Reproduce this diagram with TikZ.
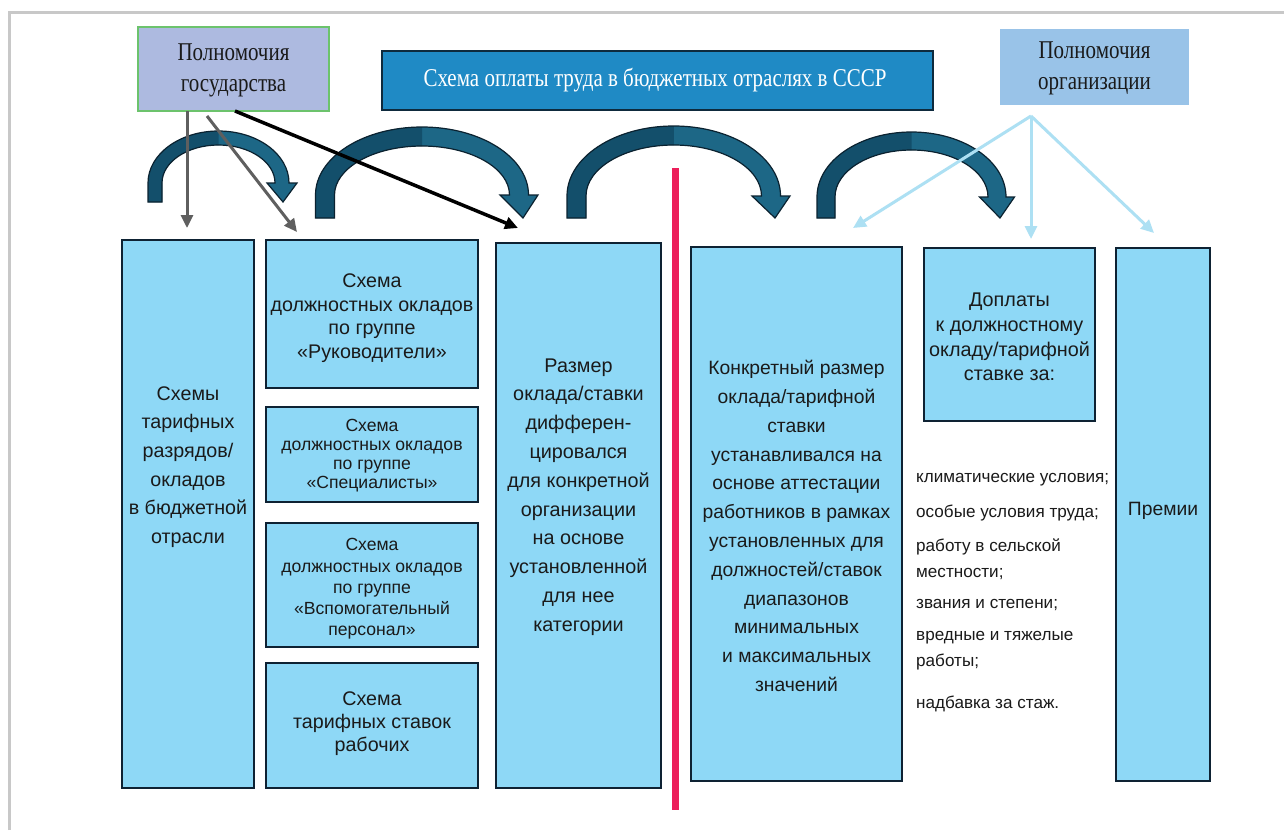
\documentclass[tikz,border=0pt]{standalone}
\usepackage{fontspec}
\usetikzlibrary{arrows.meta}
\newfontfamily\narrowsans{Liberation Sans}
\newfontfamily\narrowserif{Liberation Serif}[FakeStretch=0.82]
\definecolor{boxblue}{HTML}{8ED8F6}
\definecolor{boxedge}{HTML}{0E2233}
\definecolor{gosfill}{HTML}{ADBAE0}
\definecolor{gosedge}{HTML}{6CC36C}
\definecolor{titlefill}{HTML}{1F8AC5}
\definecolor{titleedge}{HTML}{0E2A3D}
\definecolor{orgfill}{HTML}{99C3E8}
\definecolor{greyarr}{HTML}{5F5F5F}
\definecolor{lbarr}{HTML}{ADE0F3}
\definecolor{redline}{HTML}{EC1E5A}
\definecolor{arrlightc}{HTML}{1D6786}
\definecolor{arrdarkc}{HTML}{134F6B}
\definecolor{arredgec}{HTML}{0B2230}
\definecolor{framegrey}{HTML}{C8C8C8}
\definecolor{txt}{HTML}{1A1A1A}
\newcommand\curvedarrow[9]{%
 \pgfmathsetmacro\caOX{#1-#3-#5/2}%
 \pgfmathsetmacro\caIX{#1-#3+#5/2}%
 \pgfmathsetmacro\caORX{#3+#5/2}%
 \pgfmathsetmacro\caORY{#4+#5/2}%
 \pgfmathsetmacro\caIRX{#3-#5/2}%
 \pgfmathsetmacro\caIRY{#4-#5/2}%
 \pgfmathsetmacro\caHL{#1+#3-#7}%
 \pgfmathsetmacro\caHR{#1+#3+#7}%
 \pgfmathsetmacro\caER{#1+#3+#5/2}%
 \pgfmathsetmacro\caEL{#1+#3-#5/2}%
 \def\capath{(\caOX,#6) -- (\caOX,#2) arc[start angle=180,end angle=360,x radius=\caORX,y radius=\caORY] -- (\caHR,#2) -- (#8,#9) -- (\caHL,#2) -- (\caEL,#2) arc[start angle=360,end angle=180,x radius=\caIRX,y radius=\caIRY] -- (\caIX,#6) -- cycle}%
 \fill[arrlightc] \capath;
 \begin{scope}\clip (0,0) rectangle (#1,830); \fill[arrdarkc] \capath; \end{scope}
 \draw[arredgec,line width=1.2pt,line join=miter] \capath;
}
\begin{document}
\begin{tikzpicture}[x=1pt,y=-1pt,
  box/.style={rectangle,fill=boxblue,draw=boxedge,line width=2.5pt,inner sep=0pt},
  btext/.style={align=center,text=txt,inner sep=0pt},
  ltext/.style={align=left,anchor=west,text=txt,inner sep=0pt,font=\narrowsans\fontsize{17.1}{26}\selectfont},
  greyarrow/.style={draw=greyarr,line width=3pt,-{Triangle[length=13pt,width=12pt]}},
  blackarrow/.style={draw=black,line width=3.5pt,-{Triangle[length=13pt,width=12pt]}},
  lbarrow/.style={draw=lbarr,line width=3pt,-{Triangle[length=13pt,width=12pt]}}]
\useasboundingbox (0,0) rectangle (1284,830);
\fill[white] (0,0) rectangle (1284,830);
\draw[framegrey,line width=3pt] (9,830) -- (9,12) -- (1284,12);

% top boxes
\node[rectangle,fill=gosfill,draw=gosedge,line width=1.5pt,minimum width=191pt,minimum height=84pt] (gos) at (233.5,69) {};
\node[btext,font=\narrowserif\fontsize{25.6}{31}\selectfont] (gost) at (233.5,70) {Полномочия\\государства};
\node[rectangle,fill=titlefill,draw=titleedge,line width=2pt,minimum width=551pt,minimum height=59pt] (title) at (657.5,80.5) {};
\node[btext,text=white,font=\narrowserif\fontsize{25.6}{28}\selectfont] (titlet) at (655,80) {Схема оплаты труда в бюджетных отраслях в СССР};
\node[rectangle,fill=orgfill,minimum width=189pt,minimum height=76pt] (org) at (1094.5,67) {};
\node[btext,font=\narrowserif\fontsize{25.6}{31}\selectfont] (orgt) at (1094.5,68) {Полномочия\\организации};

% curved arrows
\curvedarrow{218.5}{183}{63.5}{45}{14}{202}{15}{283}{202}
\curvedarrow{422}{195}{97}{58.5}{19}{218}{19}{523}{218}
\curvedarrow{673.75}{196}{97.25}{60.5}{19}{218}{19}{775}{218}
\curvedarrow{911.5}{197}{85.5}{56}{18}{218}{17.5}{1000}{218}

% red divider
\coordinate (rtop) at (675.5,168);
\coordinate (rbot) at (675.5,810);
\draw[redline,line width=7pt] (rtop) -- (rbot);

% boxes
\node[box,minimum width=132pt,minimum height=548pt] (b1) at (188,514) {};
\node[btext,font=\narrowsans\fontsize{19.7}{28.6}\selectfont] (b1t) at (188,467) {Схемы\\тарифных\\разрядов/\\окладов\\в бюджетной\\отрасли};
\node[box,minimum width=212pt,minimum height=148pt] (b2) at (372,314) {};
\node[btext,font=\narrowsans\fontsize{19.7}{23.5}\selectfont] (b2t) at (372,318) {Схема\\должностных окладов\\по группе\\«Руководители»};
\node[box,minimum width=212pt,minimum height=95pt] (b3) at (372,454.5) {};
\node[btext,font=\narrowsans\fontsize{17.6}{19}\selectfont] (b3t) at (372,456) {Схема\\должностных окладов\\по группе\\«Специалисты»};
\node[box,minimum width=212pt,minimum height=124pt] (b4) at (372,585) {};
\node[btext,font=\narrowsans\fontsize{17.6}{21.3}\selectfont] (b4t) at (372,589) {Схема\\должностных окладов\\по группе\\«Вспомогательный\\персонал»};
\node[box,minimum width=212pt,minimum height=125pt] (b5) at (372,725.5) {};
\node[btext,font=\narrowsans\fontsize{19.7}{23}\selectfont] (b5t) at (372,724) {Схема\\тарифных ставок\\рабочих};
\node[box,minimum width=165pt,minimum height=545pt] (b6) at (578.5,515.5) {};
\node[btext,font=\narrowsans\fontsize{19.8}{28.8}\selectfont] (b6t) at (578.5,497) {Размер\\оклада/ставки\\дифферен-\\цировался\\для конкретной\\организации\\на основе\\установленной\\для нее\\категории};
\node[box,minimum width=211pt,minimum height=534pt] (b7) at (796.5,514) {};
\node[btext,font=\narrowsans\fontsize{19.3}{28.8}\selectfont] (b7t) at (796.5,526) {Конкретный размер\\оклада/тарифной\\ставки\\устанавливался на\\основе аттестации\\работников в рамках\\установленных для\\должностей/ставок\\диапазонов\\минимальных\\и максимальных\\значений};
\node[box,minimum width=171pt,minimum height=173pt] (b8) at (1009.5,334.5) {};
\node[btext,font=\narrowsans\fontsize{19.8}{24.8}\selectfont] (b8t) at (1009.5,337) {Доплаты\\к должностному\\окладу/тарифной\\ставке за:};
\node[box,minimum width=94pt,minimum height=533pt] (b9) at (1163,514.5) {};
\node[btext,font=\narrowsans\fontsize{19.3}{24}\selectfont] (b9t) at (1163,511) {Премии};

% list
\node[ltext] (l1) at (916,480) {климатические условия;};
\node[ltext] (l2) at (916,513) {особые условия труда;};
\node[ltext] (l3) at (916,559) {работу в сельской\\местности;};
\node[ltext] (l4) at (916,605) {звания и степени;};
\node[ltext] (l5) at (916,651) {вредные и тяжелые\\работы;};
\node[ltext] (l6) at (916,704) {надбавка за стаж.};

% straight arrows
\coordinate (g1s) at (187,111);
\coordinate (g1e) at (187,228);
\coordinate (g2s) at (207,116);
\coordinate (g2e) at (297,232);
\coordinate (bks) at (235,111);
\coordinate (bke) at (518,228);
\draw[greyarrow] (g1s) -- (g1e);
\draw[greyarrow] (g2s) -- (g2e);
\draw[blackarrow] (bks) -- (bke);
\coordinate (os) at (1031,116);
\coordinate (o1) at (853,228);
\coordinate (o2) at (1031,239);
\coordinate (o3) at (1154,233);
\draw[lbarrow] (os) -- (o1);
\draw[lbarrow] (os) -- (o2);
\draw[lbarrow] (os) -- (o3);
\end{tikzpicture}
\end{document}
